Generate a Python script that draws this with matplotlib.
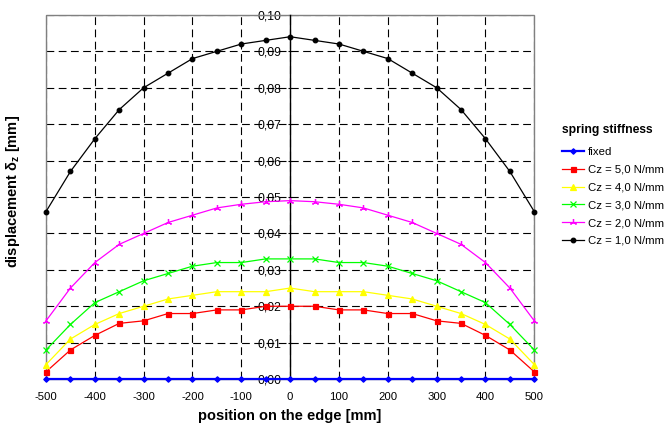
import matplotlib
matplotlib.use("Agg")
import matplotlib.pyplot as plt
from matplotlib.patches import Rectangle

plt.rcParams['font.family'] = ['Liberation Sans', 'DejaVu Sans']
plt.rcParams['mathtext.fontset'] = 'custom'
plt.rcParams['mathtext.rm'] = 'Liberation Sans'
plt.rcParams['mathtext.bf'] = 'Liberation Sans:bold'
plt.rcParams['mathtext.default'] = 'bf'

positions = [-500, -450, -400, -350, -300, -250, -200, -150, -100, -50, 0,
             50, 100, 150, 200, 250, 300, 350, 400, 450, 500]

fixed = [0.0] * 21
cz5 = [0.002, 0.008, 0.012, 0.0153, 0.016, 0.018, 0.018, 0.019, 0.019, 0.020, 0.020,
       0.020, 0.019, 0.019, 0.018, 0.018, 0.016, 0.0153, 0.012, 0.008, 0.002]
cz4 = [0.004, 0.011, 0.015, 0.018, 0.020, 0.022, 0.023, 0.024, 0.024, 0.024, 0.025,
       0.024, 0.024, 0.024, 0.023, 0.022, 0.020, 0.018, 0.015, 0.011, 0.004]
cz3 = [0.008, 0.015, 0.021, 0.024, 0.027, 0.029, 0.031, 0.032, 0.032, 0.033, 0.033,
       0.033, 0.032, 0.032, 0.031, 0.029, 0.027, 0.024, 0.021, 0.015, 0.008]
cz2 = [0.016, 0.025, 0.032, 0.037, 0.040, 0.043, 0.045, 0.047, 0.048, 0.0487, 0.049,
       0.0487, 0.048, 0.047, 0.045, 0.043, 0.040, 0.037, 0.032, 0.025, 0.016]
cz1 = [0.046, 0.057, 0.066, 0.074, 0.080, 0.084, 0.088, 0.090, 0.092, 0.093, 0.094,
       0.093, 0.092, 0.090, 0.088, 0.084, 0.080, 0.074, 0.066, 0.057, 0.046]

labels = ["fixed", "Cz = 5,0 N/mm", "Cz = 4,0 N/mm", "Cz = 3,0 N/mm",
          "Cz = 2,0 N/mm", "Cz = 1,0 N/mm"]
xticks = [-500, -400, -300, -200, -100, 0, 100, 200, 300, 400, 500]
yticks = [0.00, 0.01, 0.02, 0.03, 0.04, 0.05, 0.06, 0.07, 0.08, 0.09, 0.10]
ytick_labels = ["0,00", "0,01", "0,02", "0,03", "0,04", "0,05", "0,06", "0,07",
                "0,08", "0,09", "0,10"]

fig = plt.figure(figsize=(6.67, 4.25), dpi=100)
ax = fig.add_axes([0.069, 0.108, 0.732, 0.857])

series = [
    (fixed, '#0000FF', 'D', 2.8, 1.6),
    (cz5, '#FF0000', 's', 3.6, 0.9),
    (cz4, '#FFFF00', '^', 4.2, 0.9),
    (cz3, '#00FF00', 'x', 4.0, 0.9),
    (cz2, '#FF00FF', (3, 2, 0), 5.0, 0.9),
    (cz1, '#000000', 'o', 3.3, 0.9),
]
for (vals, col, mk, ms, lw), lab in zip(series, labels):
    ax.plot(positions, vals, color=col, marker=mk, markersize=ms, linewidth=lw,
            markeredgewidth=0.9, label=lab, zorder=3, clip_on=False)

ax.set_xlim(-500, 500)
ax.set_ylim(0, 0.10)
ax.set_xticks(xticks)
ax.set_xticklabels([str(t) for t in xticks])
ax.set_yticks(yticks)
ax.set_yticklabels(ytick_labels)

ax.grid(True, color='black', linestyle=(0, (7, 4)), linewidth=0.8, zorder=1)
ax.set_axisbelow(True)

for s in ['top', 'right', 'bottom']:
    ax.spines[s].set_visible(False)
ax.spines['left'].set_position(('data', 0))
ax.spines['left'].set_color('black')
ax.spines['left'].set_linewidth(1.0)
ax.spines['left'].set_zorder(2)
ax.add_patch(Rectangle((0, 0), 1, 1, transform=ax.transAxes, fill=False,
                       edgecolor='#808080', linewidth=1.0, zorder=1.5, clip_on=False))

ax.tick_params(axis='x', length=0, pad=9.5, labelsize=8.2)
ax.tick_params(axis='y', length=3, direction='inout', pad=5, labelsize=8.8)

ax.set_xlabel("position on the edge [mm]", fontsize=10.5, fontweight='bold', labelpad=5)
fig.text(0.02, 0.55, r"displacement δ$_z$ [mm]", rotation=90, fontsize=10.5,
         fontweight='bold', ha='center', va='center')

handles, labs = ax.get_legend_handles_labels()
leg = fig.legend(handles, labs, loc='upper left', bbox_to_anchor=(0.835, 0.719),
                 frameon=False, fontsize=8.2, title="spring stiffness",
                 title_fontproperties={'weight': 'bold', 'size': 8.7},
                 alignment='left', handlelength=2.0, handletextpad=0.35,
                 labelspacing=0.68, borderaxespad=0)
leg._legend_box.sep = 8

fig.savefig("out.png", dpi=100)
